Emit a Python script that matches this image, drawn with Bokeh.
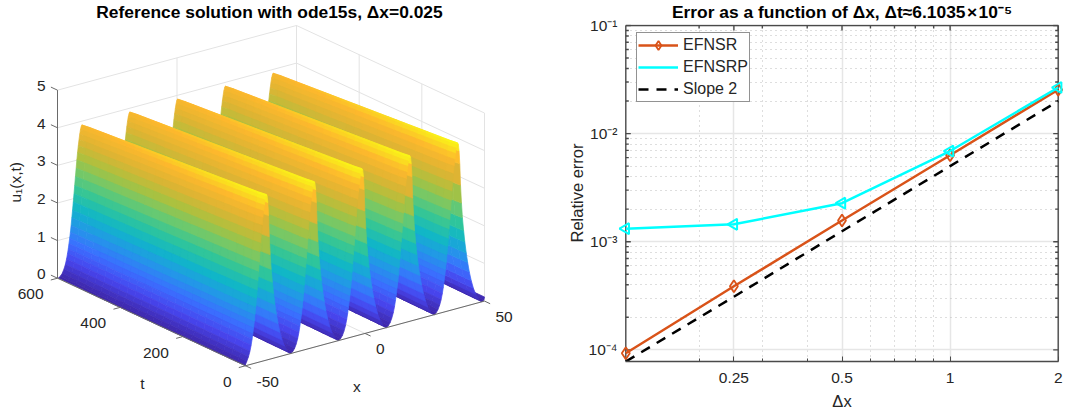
import math
from bokeh.plotting import figure
from bokeh.layouts import row
from bokeh.embed import file_html
from bokeh.resources import INLINE
from bokeh.models import (ColumnDataSource, FixedTicker, Legend, LegendItem, PolyAnnotation, Range1d)

# ---------- left panel data ----------
x_limits = [-50, 50]
t_limits = [0, 600]
z_limits = [0, 5]
x_ticks = [-50, 0, 50]
t_ticks = [0, 200, 400, 600]
z_ticks = [0, 1, 2, 3, 4, 5]
valleys = [-50, -30, -10, 10, 30, 50]
wave_offset = [0.0, 0.8, 1.6, 2.3, 2.9, 3.4, 3.8, 4.1, 4.4, 4.7, 5.0, 5.3, 5.6, 5.9, 6.2, 6.5, 6.8, 7.1, 7.4, 7.7,
               8.0, 8.3, 8.6, 8.9, 9.2, 9.5, 9.8, 10.1, 10.4, 10.7, 11.0, 11.4, 11.8, 12.3, 12.8, 13.4, 14.0, 14.7,
               15.5, 16.4, 17.4, 18.6, 20.0]
wave_shape = [0.0, 0.008, 0.025, 0.05, 0.08, 0.115, 0.15, 0.18, 0.215, 0.25, 0.29, 0.335, 0.385, 0.435, 0.49, 0.545,
              0.60, 0.66, 0.715, 0.77, 0.82, 0.865, 0.905, 0.94, 0.97, 0.99, 1.0, 0.99, 0.95, 0.87, 0.74, 0.63, 0.54,
              0.46, 0.39, 0.32, 0.26, 0.20, 0.145, 0.095, 0.055, 0.02, 0.0]
t_nodes = [600, 575, 550, 525, 500, 475, 450, 425, 400, 375, 350, 325, 300, 275, 250, 225, 200, 175, 150, 125, 100,
           75, 50, 25, 0]
crest_height = [3.90, 3.93, 3.95, 3.97, 3.99, 4.01, 4.03, 4.05, 4.07, 4.09, 4.11, 4.13, 4.15, 4.17, 4.19, 4.21, 4.23,
                4.25, 4.27, 4.29, 4.31, 4.33, 4.35, 4.37, 4.40]
crest_drift = [0.4, 0.34, 0.28, 0.22, 0.16, 0.1, 0.04, -0.02, -0.08, -0.14, -0.2, -0.26, -0.32, -0.38, -0.44, -0.5,
               -0.56, -0.62, -0.68, -0.74, -0.8, -0.86, -0.92, -0.98, -1.04]
color_limit = 4.40

# ---------- right panel data ----------
dx = [0.125, 0.25, 0.5, 1, 2]
efnsr = [9.3e-5, 3.87e-4, 1.57e-3, 6.3e-3, 2.55e-2]
efnsrp = [1.32e-3, 1.45e-3, 2.27e-3, 6.9e-3, 2.67e-2]
slope2 = [7.8e-5, 3.1e-4, 1.25e-3, 5.0e-3, 2.0e-2]
dx_ticks = [0.25, 0.5, 1, 2]
dx_minor = [0.2, 0.3, 0.4, 0.6, 0.7, 0.8, 0.9]
err_ticks = [1e-4, 1e-3, 1e-2, 1e-1]
err_minor = [m * d for d in (1e-4, 1e-3, 1e-2) for m in (2, 3, 4, 5, 6, 7, 8, 9)]
err_labels = {1e-4: "10⁻⁴", 1e-3: "10⁻³", 1e-2: "10⁻²", 1e-1: "10⁻¹"}

PARULA = ["#3E26A8", "#4745EE", "#3A70FF", "#2397E8", "#10B6C8", "#2FC59B", "#6CC96E", "#ABC13F", "#DDB433",
          "#FDB82D", "#F9FB15"]


def parula(f):
    f = min(max(f, 0.0), 1.0) * (len(PARULA) - 1)
    i = min(int(f), len(PARULA) - 2)
    w = f - i
    a = [int(PARULA[i][k:k + 2], 16) for k in (1, 3, 5)]
    b = [int(PARULA[i + 1][k:k + 2], 16) for k in (1, 3, 5)]
    return "#%02x%02x%02x" % tuple(int(round(a[k] * (1 - w) + b[k] * w)) for k in range(3))


# orthographic view of the 3-D axes box
def project(x, t, z):
    return (245 + (x + 50) * 2.39 - t * 188 / 600,
            365 - (x + 50) * 0.65 - t * 88 / 600 - z * 37.8)


FONT = "Liberation Sans"
TXT = "#262626"
TICK_SIZE = "15.5px"
TITLE_SIZE = "17.4px"

left = figure(width=530, height=415, x_range=Range1d(8, 530), y_range=Range1d(415, 22), output_backend="svg",
              toolbar_location=None, min_border_left=8, min_border_right=0, min_border_top=22, min_border_bottom=0,
              x_axis_type=None, y_axis_type=None, outline_line_color=None, frame_align=False,
              title="Reference solution with ode15s, Δx=0.025")
left.title.align = "center"
left.title.vertical_align = "top"
left.title.standoff = 2
left.title.text_font = FONT
left.title.text_font_size = TITLE_SIZE
left.title.text_font_style = "bold"
left.title.text_color = "#000000"
left.grid.visible = False


def seg(a, b, sink):
    pa, pb = project(*a), project(*b)
    sink[0].append([pa[0], pb[0]])
    sink[1].append([pa[1], pb[1]])


# grid on the box walls
gx, gy = [], []
sink = (gx, gy)
x0, x1 = x_limits
t0, t1 = t_limits
z0, z1 = z_limits
for z in z_ticks:
    seg((x0, t1, z), (x1, t1, z), sink)
    seg((x1, t1, z), (x1, t0, z), sink)
for x in x_ticks:
    seg((x, t1, z0), (x, t1, z1), sink)
    seg((x, t0, z0), (x, t1, z0), sink)
for t in t_ticks:
    seg((x1, t, z0), (x1, t, z1), sink)
    seg((x0, t, z0), (x1, t, z0), sink)
left.multi_line(gx, gy, line_color="#e3e3e3", line_width=1)

# surface: back to front
all_x = [v + o for v in valleys for o in wave_offset[:-1]]
all_s = [s for v in valleys for s in wave_shape[:-1]]


def clamp(v):
    return min(max(v, x0), x1)


qx, qy, qc = [], [], []
for j in range(len(t_nodes) - 1):
    for i in range(len(all_x) - 2, -1, -1):
        tb, tf = t_nodes[j], t_nodes[j + 1]
        hb, hf = crest_height[j], crest_height[j + 1]
        db, df = crest_drift[j], crest_drift[j + 1]
        if all_x[i] + min(db, df) >= x1:
            continue
        corners = [(clamp(all_x[i] + db), tb, all_s[i] * hb), (clamp(all_x[i + 1] + db), tb, all_s[i + 1] * hb),
                   (clamp(all_x[i + 1] + df), tf, all_s[i + 1] * hf), (clamp(all_x[i] + df), tf, all_s[i] * hf)]
        pts = [project(*c) for c in corners]
        qx.append([p[0] for p in pts])
        qy.append([p[1] for p in pts])
        qc.append(parula(sum(c[2] for c in corners) / 4 / color_limit))
left.patches("xs", "ys", source=ColumnDataSource(dict(xs=qx, ys=qy, c=qc)), fill_color="c", line_color="c",
             line_width=0.7)

# axes
ax, ay = [], []
sink = (ax, ay)
seg((x0, t1, z0), (x0, t1, z1), sink)
seg((x0, t0, z0), (x0, t1, z0), sink)
seg((x0, t0, z0), (x1, t0, z0), sink)
for z in z_ticks:
    seg((x0, t1, z), (x0, t1 + 21, z), sink)
for t in t_ticks:
    seg((x0, t, z0), (x0 - 2.8, t, z0), sink)
for x in x_ticks:
    seg((x, t0, z0), (x, t0 - 18, z0), sink)
left.multi_line(ax, ay, line_color="#6a6a6a", line_width=1)


def labels(fig, items, dx_, dy_, align):
    fig.text([project(*i[0])[0] for i in items], [project(*i[0])[1] for i in items], text=[i[1] for i in items],
             x_offset=dx_, y_offset=dy_, text_align=align, text_baseline="middle", text_font_size=TICK_SIZE,
             text_font={"value": FONT}, text_color=TXT)


labels(left, [((x0, t1, z), str(z)) for z in z_ticks], -12, -4, "right")
labels(left, [((x0, t, z0), str(t)) for t in t_ticks], -14, 16, "right")
labels(left, [((x, t0, z0), str(x)) for x in x_ticks], 11, 16, "left")
labels(left, [((-10, t0, z0), "x")], 12, 47, "left")
labels(left, [((x0, 300, z0), "t")], -9, 62, "center")
ulx, uly = project(x0, t1, 2.55)
left.text([ulx], [uly], text=["u₁(x,t)"], x_offset=-42, y_offset=0, angle=1.5708, text_align="center",
          text_baseline="middle", text_font_size=TICK_SIZE, text_font={"value": FONT}, text_color=TXT)

# ---------- right panel ----------
px_x = 108.1   # pixels per doubling of dx
px_y = 108.9   # pixels per decade of the error
pad = 2 ** (7.3 / px_x)
ytop = err_ticks[-1] * 10 ** (1 / px_y)
right = figure(width=536, height=415, x_axis_type="log", y_axis_type="log",
               x_range=Range1d(dx[0] / pad, dx[-1] * pad), y_range=Range1d(slope2[0], ytop),
               output_backend="svg", toolbar_location=None, min_border_left=88, min_border_right=1,
               min_border_top=22, min_border_bottom=54, outline_line_color=None, frame_align=False,
               title="Error as a function of Δx, Δt≈6.1035\u200a×\u200a10⁻⁵")
right.title.align = "center"
right.title.vertical_align = "top"
right.title.standoff = 2
right.title.text_font = FONT
right.title.text_font_size = TITLE_SIZE
right.title.text_font_style = "bold"
right.title.text_color = "#000000"
BOX = "#4a4a4a"


def style(axis, ticks, minor):
    axis.ticker = FixedTicker(ticks=ticks, minor_ticks=minor)
    axis.axis_line_color = BOX
    axis.axis_line_width = 1.5
    axis.major_tick_line_color = BOX
    axis.minor_tick_line_color = BOX
    axis.major_tick_in, axis.major_tick_out = 5, 0
    axis.minor_tick_in, axis.minor_tick_out = 3, 0
    axis.major_label_text_font = FONT
    axis.major_label_text_font_size = TICK_SIZE
    axis.major_label_text_color = TXT
    axis.axis_label_text_font = FONT
    axis.axis_label_text_font_size = "16.5px"
    axis.axis_label_text_font_style = "normal"
    axis.axis_label_text_color = TXT


bottom = right.xaxis[0]
style(bottom, dx_ticks, dx_minor)
bottom.bounds = (dx[0], dx[-1])
bottom.major_label_overrides = {0.25: "0.25", 0.5: "0.5", 1: "1", 2: "2"}
bottom.axis_label = "Δx"
bottom.major_label_standoff = 11
bottom.axis_label_standoff = 6

# the native left axis gives the labels; the box line is drawn with the other edges
lax = right.yaxis[0]
style(lax, err_ticks, err_minor)
lax.axis_line_color = None
lax.major_tick_line_color = None
lax.minor_tick_line_color = None
lax.major_tick_in = 0
lax.minor_tick_in = 0
lax.major_label_overrides = err_labels
lax.axis_label = "Relative error"
lax.major_label_standoff = 1
lax.axis_label_standoff = 0

for g in (right.xgrid[0], right.ygrid[0]):
    g.grid_line_color = "#e6e6e6"
    g.grid_line_width = 1.5
    g.minor_grid_line_color = "#bdbdbd"
    g.minor_grid_line_dash = "1 4"
    g.minor_grid_line_width = 1
right.xgrid[0].ticker = FixedTicker(ticks=dx_ticks, minor_ticks=dx_minor)
right.ygrid[0].ticker = FixedTicker(ticks=err_ticks, minor_ticks=err_minor)
right.ygrid[0].cross_bounds = (dx[0], dx[-1])

# left, top and right edges of the box with their inward ticks
bx = [[dx[0], dx[-1]], [dx[-1], dx[-1]], [dx[0], dx[0]]]
by = [[err_ticks[-1], err_ticks[-1]], [slope2[0], err_ticks[-1]], [slope2[0], err_ticks[-1]]]
for v, n in [(v, 5) for v in dx_ticks] + [(v, 3) for v in dx_minor]:
    bx.append([v, v])
    by.append([err_ticks[-1], err_ticks[-1] * 10 ** (-n / px_y)])
for v, n in [(v, 5) for v in err_ticks] + [(v, 3) for v in err_minor]:
    bx.append([dx[-1], dx[-1] * 2 ** (-n / px_x)])
    by.append([v, v])
    bx.append([dx[0], dx[0] * 2 ** (n / px_x)])
    by.append([v, v])
right.multi_line(bx, by, line_color=BOX, line_width=1.4)

l1 = right.line(dx, efnsr, line_color="#D95319", line_width=2.5)
m1 = right.scatter(dx, efnsr, marker="diamond", size=12, fill_color=None, line_color="#D95319", line_width=1.8)
l2 = right.line(dx, efnsrp, line_color="#00FFFF", line_width=2.5)
tri_src = ColumnDataSource(dict(x=dx, y=efnsrp, a=[math.pi / 2] * len(dx)))
m2 = right.scatter("x", "y", source=tri_src, marker="triangle", angle="a", size=11, fill_color=None,
                   line_color="#00FFFF", line_width=2)
l3 = right.line(dx, slope2, line_color="#000000", line_width=2.5, line_dash="10 8")

legend = Legend(items=[LegendItem(label="EFNSR", renderers=[l1, m1], index=0),
                       LegendItem(label="EFNSRP", renderers=[l2], index=0),
                       LegendItem(label="Slope 2", renderers=[l3], index=0)],
                location=(18, 259), orientation="vertical", padding=1, spacing=0, margin=0, glyph_width=40,
                glyph_height=22, label_height=22, label_standoff=5, label_text_font=FONT,
                label_text_font_size="16px", label_text_color=TXT, border_line_color="#262626",
                border_line_width=1, background_fill_alpha=1.0, inactive_fill_alpha=0)
right.add_layout(legend)

# legend key of the cyan series: its triangle points left, which a legend's own marker cannot do
key_tri = PolyAnnotation(xs=[37, 48, 48], ys=[293.5, 299, 288], xs_units="screen", ys_units="screen",
                         fill_color="#00FFFF", fill_alpha=0.5, line_color="#00FFFF", line_alpha=1.0, line_width=2,
                         level="overlay", editable=False)
right.add_layout(key_tri)

page = row(left, right, margin=(0, 0, 0, 0), spacing=0)
open("out.html", "w").write(file_html(page, INLINE))
